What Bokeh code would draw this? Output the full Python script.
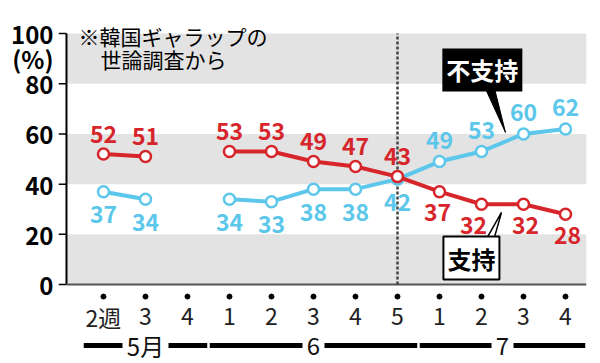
import numpy as np
from bokeh.plotting import figure
from bokeh.models import Label, BoxAnnotation, FixedTicker
from bokeh.core.properties import value
from bokeh.embed import file_html
from bokeh.resources import INLINE

# ---- data ----
weeks = ["2週", "3", "4", "1", "2", "3", "4", "5", "1", "2", "3", "4"]
support = [52, 51, None, 53, 53, 49, 47, 43, 37, 32, 32, 28]      # 支持
oppose = [37, 34, None, 34, 33, 38, 38, 42, 49, 53, 60, 62]        # 不支持
months = ["5月", "6", "7"]
month_first = [0, 3, 8]
month_last = [2, 7, 11]
y_ticks = [0, 20, 40, 60, 80, 100]
unit_label = "(%)"
unit_at = 90
bands = [(0, 20), (40, 60), (80, 100)]
divider_week = 7
note_lines = ["※韓国ギャラップの", "世論調査から"]

RED = "#d7262b"
BLUE = "#5cc7ea"
FONT = "Noto Sans CJK JP"

PX_X = 42.0      # px per week (layout)
AXIS_X = -0.881  # where the vertical axis line sits (layout)
X0, X1 = -1.071, 11.5
Y0, Y1 = -31.47, 105.2
red_dx = [0, 0, 0, 0, 0, 0, 0, 0, -2, -8, 2, 2]   # label nudges (layout)

x = np.arange(len(weeks), dtype=float)
sup = np.array([np.nan if v is None else v for v in support], dtype=float)
opp = np.array([np.nan if v is None else v for v in oppose], dtype=float)

p = figure(width=600, height=363, x_range=(X0, X1), y_range=(Y0, Y1),
           x_axis_location=None, toolbar_location=None, output_backend="svg",
           min_border_left=58, min_border_right=14, min_border_top=20, min_border_bottom=0)
p.grid.visible = False
p.outline_line_color = None
p.background_fill_color = "white"
p.border_fill_color = "white"

# bands
for b, t in bands:
    p.add_layout(BoxAnnotation(left=AXIS_X, bottom=b, top=t, fill_color="#e3e3e3", fill_alpha=1,
                               line_color=None, level="underlay"))

# y axis (labels from the real axis; tick marks + line drawn in the frame)
ax = p.yaxis[0]
ax.ticker = FixedTicker(ticks=y_ticks + [unit_at])
ax.major_label_overrides = {unit_at: unit_label}
ax.major_tick_in = 0
ax.major_tick_out = 0
ax.minor_tick_line_color = None
ax.axis_line_color = None
ax.major_label_text_font = FONT
ax.major_label_text_font_style = "bold"
ax.major_label_text_font_size = "24px"
ax.major_label_text_color = "black"
ax.major_label_standoff = 5

p.segment(x0=[X0] * len(y_ticks), y0=y_ticks, x1=[AXIS_X] * len(y_ticks), y1=y_ticks,
          line_color="black", line_width=1.5)
p.segment(x0=[AXIS_X], y0=[y_ticks[0]], x1=[AXIS_X], y1=[y_ticks[-1]], line_color="black", line_width=2)
# baseline
p.segment(x0=[AXIS_X], y0=[0], x1=[X1], y1=[0], line_color="#555555", line_width=2)

# divider
p.segment(x0=[divider_week], y0=[0], x1=[divider_week], y1=[100],
          line_dash="3 2", line_width=2.5, line_color="#444444")

# note
p.text(x=[-0.595, -0.07], y=[99.2, 90.0], text=note_lines, text_align="left",
       text_baseline="middle", text_font=value(FONT), text_font_size="21px", text_color="black")

# series
p.line(x, opp, line_width=4, line_color=BLUE)
p.scatter(x, opp, size=11, fill_color="white", line_color=BLUE, line_width=2.5)
p.line(x, sup, line_width=4, line_color=RED)
p.scatter(x, sup, size=11, fill_color="white", line_color=RED, line_width=2.5)

# value labels
valid = ~np.isnan(sup)
red_off = np.where(sup >= opp, -20, 21)
blue_off = np.where(sup >= opp, 23, -21)
p.text(x=x[valid], y=sup[valid], text=[str(int(v)) for v in sup[valid]],
       x_offset=np.array(red_dx)[valid], y_offset=red_off[valid],
       text_align="center", text_baseline="middle",
       text_font=value(FONT), text_font_style="bold", text_font_size="23px", text_color=RED)
p.text(x=x[valid], y=opp[valid], text=[str(int(v)) for v in opp[valid]],
       y_offset=blue_off[valid], text_align="center", text_baseline="middle",
       text_font=value(FONT), text_font_style="bold", text_font_size="23px", text_color=BLUE)

# callout pointers
p.patch(x=[9.048, 9.286, 9.571], y=[79.7, 79.7, 60.6], fill_color="black", line_color="black")
p.patch(x=[9.095, 9.286, 9.476], y=[17.5, 17.5, 28.7], fill_color="white",
        line_color="black", line_width=1.5)
p.add_layout(Label(x=9.02, y=85.5, text="不支持", text_align="center", text_baseline="middle",
                   text_font=FONT, text_font_style="bold", text_font_size="24px",
                   text_color="white", background_fill_color="black", padding=4))
p.add_layout(Label(x=8.76, y=10.56, text="支持", text_align="center", text_baseline="middle",
                   text_font=FONT, text_font_style="bold", text_font_size="24px",
                   text_color="black", background_fill_color="white",
                   border_line_color="black", border_line_width=2, padding=4))

# x tick dots and labels
p.scatter(x, np.full(len(x), -4.8), size=5, color="black")
p.text(x=x, y=np.full(len(x), -12.75), text=weeks, text_align="center", text_baseline="middle",
       text_font=value(FONT), text_font_size="23px", text_color="#222222")

# month rows
mx0, mx1, mcx = [], [], []
for lab, a, b in zip(months, month_first, month_last):
    c = (a + b) / 2.0
    half = (12 * len(lab) - 1) / PX_X
    lo, hi = a - 0.47, min(b + 0.47, X1)
    mx0 += [lo, c + half]
    mx1 += [c - half, hi]
    mcx.append(c)
my = -24.3
p.segment(x0=mx0, y0=[my] * len(mx0), x1=mx1, y1=[my] * len(mx1), line_width=5, line_color="black")
p.text(x=mcx, y=[my] * len(mcx), text=months, text_align="center", text_baseline="middle",
       text_font=value(FONT), text_font_size="24px", text_color="#111111")

open("out.html", "w").write(file_html(p, INLINE))
